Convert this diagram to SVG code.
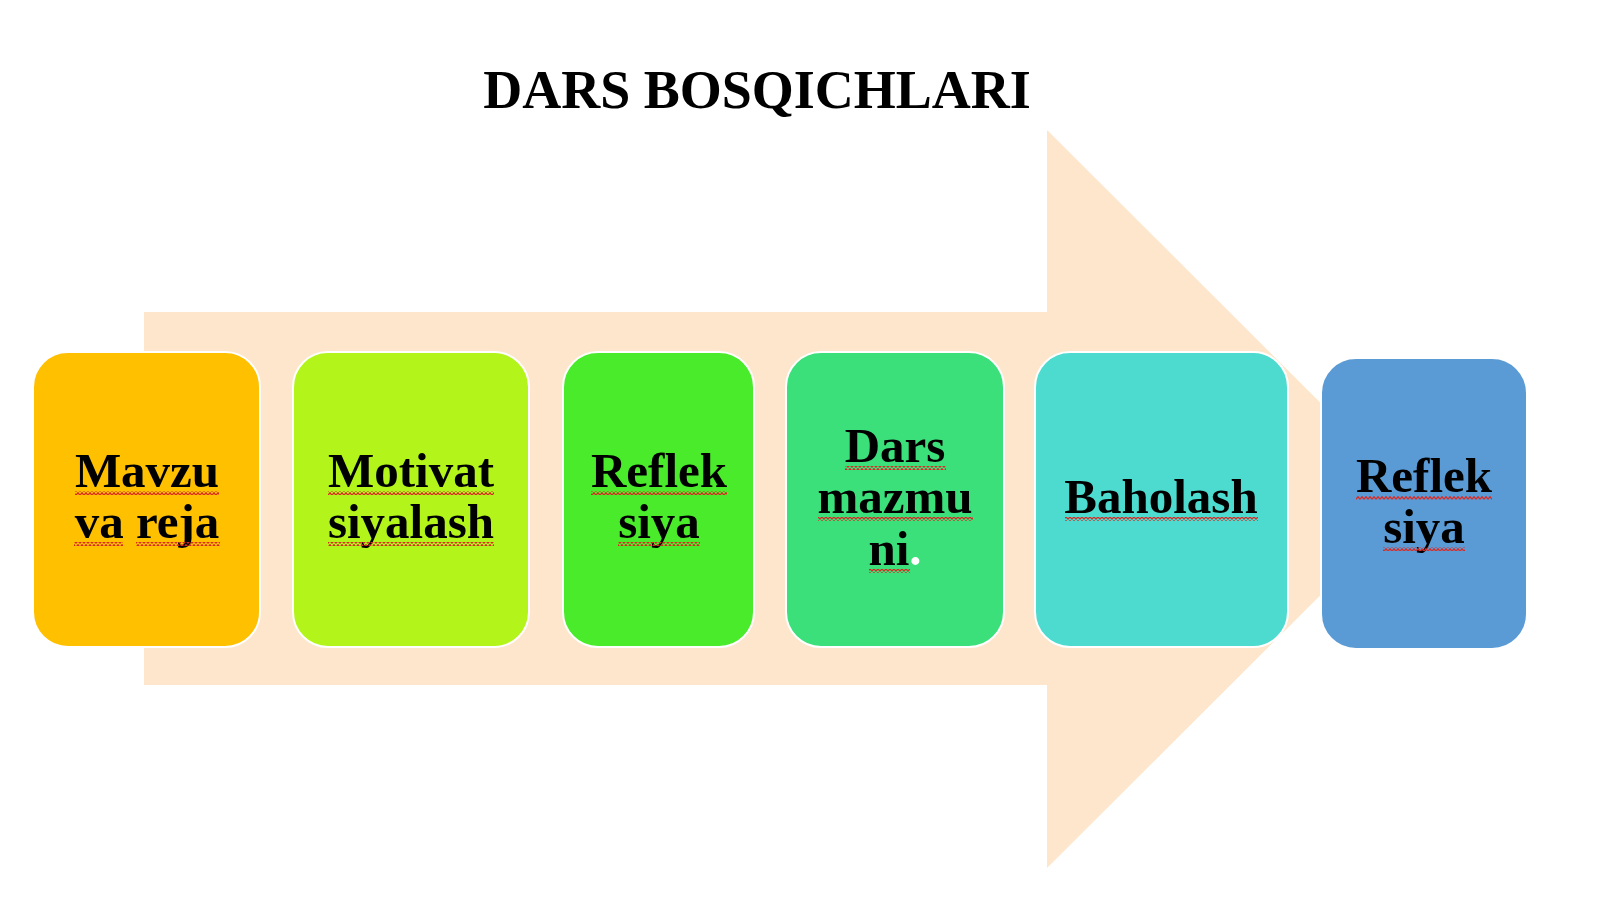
<svg xmlns="http://www.w3.org/2000/svg" width="1600" height="900" viewBox="0 0 1600 900">
<defs>
<style>
.t{font-family:"Liberation Serif","Times New Roman",serif;font-weight:bold;font-size:49px;fill:#000;text-anchor:middle}
.title{font-family:"Liberation Serif","Times New Roman",serif;font-weight:bold;font-size:54px;fill:#000;text-anchor:middle}
.box{stroke:#ffffff;stroke-width:2}
.sq{fill:url(#sq)}
</style>
<pattern id="sq" x="0" y="0" width="4" height="4" patternUnits="userSpaceOnUse">
<path d="M0,3.3 L2,0.7 L4,3.3" fill="none" stroke="#d82a24" stroke-width="1.3"/>
</pattern>
</defs>
<rect width="1600" height="900" fill="#ffffff"/>
<text class="title" x="757" y="108">DARS BOSQICHLARI</text>
<g id="connectors">
<path d="M144,312 L1047,312 L1047,130 L1417,499 L1047,868 L1047,685 L144,685 Z" fill="#fde6cb"/>
</g>
<g id="node1">
<rect class="box" x="33" y="352" width="227" height="295" rx="35" fill="#ffc000"/>
<text class="t" x="147" y="487">Mavzu</text>
<text class="t" x="147" y="538">va reja</text>
<rect class="sq" x="75" y="491" width="144" height="4"/>
<rect class="sq" x="74" y="542" width="49" height="4"/>
<rect class="sq" x="136" y="542" width="84" height="4"/>
</g>
<g id="node2">
<rect class="box" x="293" y="352" width="236" height="295" rx="35" fill="#b3f51a"/>
<text class="t" x="411" y="487">Motivat</text>
<text class="t" x="411" y="538">siyalash</text>
<rect class="sq" x="328" y="491" width="166" height="4"/>
<rect class="sq" x="328" y="542" width="166" height="4"/>
</g>
<g id="node3">
<rect class="box" x="563" y="352" width="191" height="295" rx="35" fill="#4aeb2b"/>
<text class="t" x="659" y="487">Reflek</text>
<text class="t" x="659" y="538">siya</text>
<rect class="sq" x="591" y="491" width="136" height="4"/>
<rect class="sq" x="618" y="542" width="82" height="4"/>
</g>
<g id="node4">
<rect class="box" x="786" y="352" width="218" height="295" rx="35" fill="#3be07a"/>
<text class="t" x="895" y="462">Dars</text>
<text class="t" x="895" y="513">mazmu</text>
<text class="t" x="895" y="565">ni<tspan fill="#ffffff">.</tspan></text>
<rect class="sq" x="845" y="466" width="101" height="4"/>
<rect class="sq" x="818" y="517" width="155" height="4"/>
<rect class="sq" x="869" y="569" width="41" height="4"/>
</g>
<g id="node5">
<rect class="box" x="1035" y="352" width="253" height="295" rx="35" fill="#4ddbd0"/>
<text class="t" x="1161" y="513">Baholash</text>
<rect class="sq" x="1065" y="517" width="193" height="4"/>
</g>
<g id="node6">
<rect class="box" x="1321" y="358" width="206" height="291" rx="35" fill="#5b9bd5"/>
<text class="t" x="1424" y="492">Reflek</text>
<text class="t" x="1424" y="543">siya</text>
<rect class="sq" x="1356" y="496" width="136" height="4"/>
<rect class="sq" x="1383" y="547" width="82" height="4"/>
</g>
</svg>
